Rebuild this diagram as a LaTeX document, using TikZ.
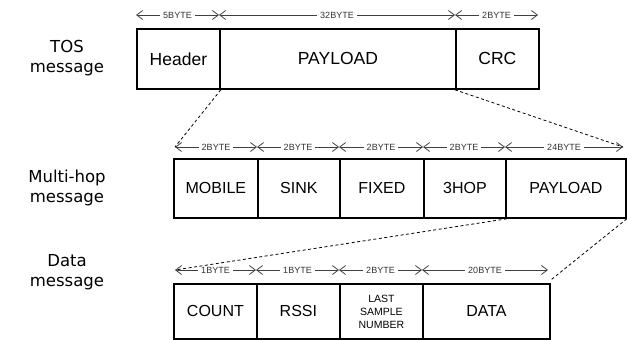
\documentclass[tikz,border=0pt]{standalone}
\usepackage{fontspec}
\setmainfont{Liberation Sans}
\newfontfamily\sidefont{DejaVu Sans}
\usetikzlibrary{arrows.meta}
\begin{document}
\begin{tikzpicture}[x=1pt,y=-1pt,
  cell/.style={draw=black,line width=1.8pt,anchor=north west,inner sep=0pt,align=center},
  dim/.style={draw=black!75,line width=0.7pt,{Straight Barb[length=6pt,width=9pt,line width=0.8pt]}-{Straight Barb[length=6pt,width=9pt,line width=0.8pt]}},
  dimlbl/.style={fill=white,inner xsep=3pt,inner ysep=1pt,font=\fontsize{9}{10}\selectfont,text=black!80},
  link/.style={draw=black,line width=0.8pt,dash pattern=on 3pt off 2.5pt},
  side/.style={align=center,font=\sidefont\fontsize{16.5}{19.5}\selectfont}]
\useasboundingbox (0,0) rectangle (627,340);
% side labels
\node[side] (tosl) at (67,58) {TOS\\message};
\node[side] (mhl) at (67,188) {Multi-hop\\message};
\node[side] (dl) at (67,272) {Data\\message};
% TOS row
\begin{scope}[every node/.append style={font=\fontsize{17.5}{19}\selectfont}]
\node[cell,minimum width=83pt,minimum height=60pt] (hdr) at (136,28) {Header};
\node[cell,minimum width=236pt,minimum height=60pt] (tpay) at (219,28) {PAYLOAD};
\node[cell,minimum width=83pt,minimum height=60pt] (crc) at (455,28) {CRC};
\end{scope}
% Multi-hop row
\begin{scope}[every node/.append style={font=\fontsize{16}{17}\selectfont}]
\node[cell,minimum width=84pt,minimum height=59pt] (mob) at (173,158) {MOBILE};
\node[cell,minimum width=82pt,minimum height=59pt] (sink) at (257,158) {SINK};
\node[cell,minimum width=84pt,minimum height=59pt] (fix) at (339,158) {FIXED};
\node[cell,minimum width=82pt,minimum height=59pt] (hop) at (423,158) {3HOP};
\node[cell,minimum width=120pt,minimum height=59pt] (mpay) at (505,158) {PAYLOAD};
\end{scope}
% Data row
\begin{scope}[every node/.append style={font=\fontsize{16}{17}\selectfont}]
\node[cell,minimum width=83pt,minimum height=55pt] (cnt) at (173,283) {COUNT};
\node[cell,minimum width=83pt,minimum height=55pt] (rssi) at (256,283) {RSSI};
\node[cell,minimum width=83pt,minimum height=55pt,font=\fontsize{10.5}{13}\selectfont] (lsn) at (339,283) {LAST\\SAMPLE\\NUMBER};
\node[cell,minimum width=127pt,minimum height=55pt] (data) at (422,283) {DATA};
\end{scope}
% dimension coordinates
\coordinate (t0) at (136,15); \coordinate (t1) at (219,15);
\coordinate (t2) at (455,15); \coordinate (t3) at (538,15);
\coordinate (m0) at (175,147); \coordinate (m1) at (257,147); \coordinate (m2) at (339,147);
\coordinate (m3) at (423,147); \coordinate (m4) at (505,147); \coordinate (m5) at (623,147);
\coordinate (b0) at (175,270); \coordinate (b1) at (256,270); \coordinate (b2) at (339,270);
\coordinate (b3) at (422,270); \coordinate (b4) at (548,270);
\draw[dim] (t0) -- node[dimlbl]{5BYTE} (t1);
\draw[dim] (t1) -- node[dimlbl]{32BYTE} (t2);
\draw[dim] (t2) -- node[dimlbl]{2BYTE} (t3);
\draw[dim] (m0) -- node[dimlbl]{2BYTE} (m1);
\draw[dim] (m1) -- node[dimlbl]{2BYTE} (m2);
\draw[dim] (m2) -- node[dimlbl]{2BYTE} (m3);
\draw[dim] (m3) -- node[dimlbl]{2BYTE} (m4);
\draw[dim] (m4) -- node[dimlbl]{24BYTE} (m5);
\draw[dim] (b0) -- node[dimlbl]{1BYTE} (b1);
\draw[dim] (b1) -- node[dimlbl]{1BYTE} (b2);
\draw[dim] (b2) -- node[dimlbl]{2BYTE} (b3);
\draw[dim] (b3) -- node[dimlbl]{20BYTE} (b4);
% dashed links
\draw[link] (hdr.south east) -- (m0);
\draw[link] (crc.south west) -- (m5);
\draw[link] (hop.south east) -- (b0);
\draw[link] (mpay.south east) -- ([yshift=3pt]data.north east);
\end{tikzpicture}
\end{document}
